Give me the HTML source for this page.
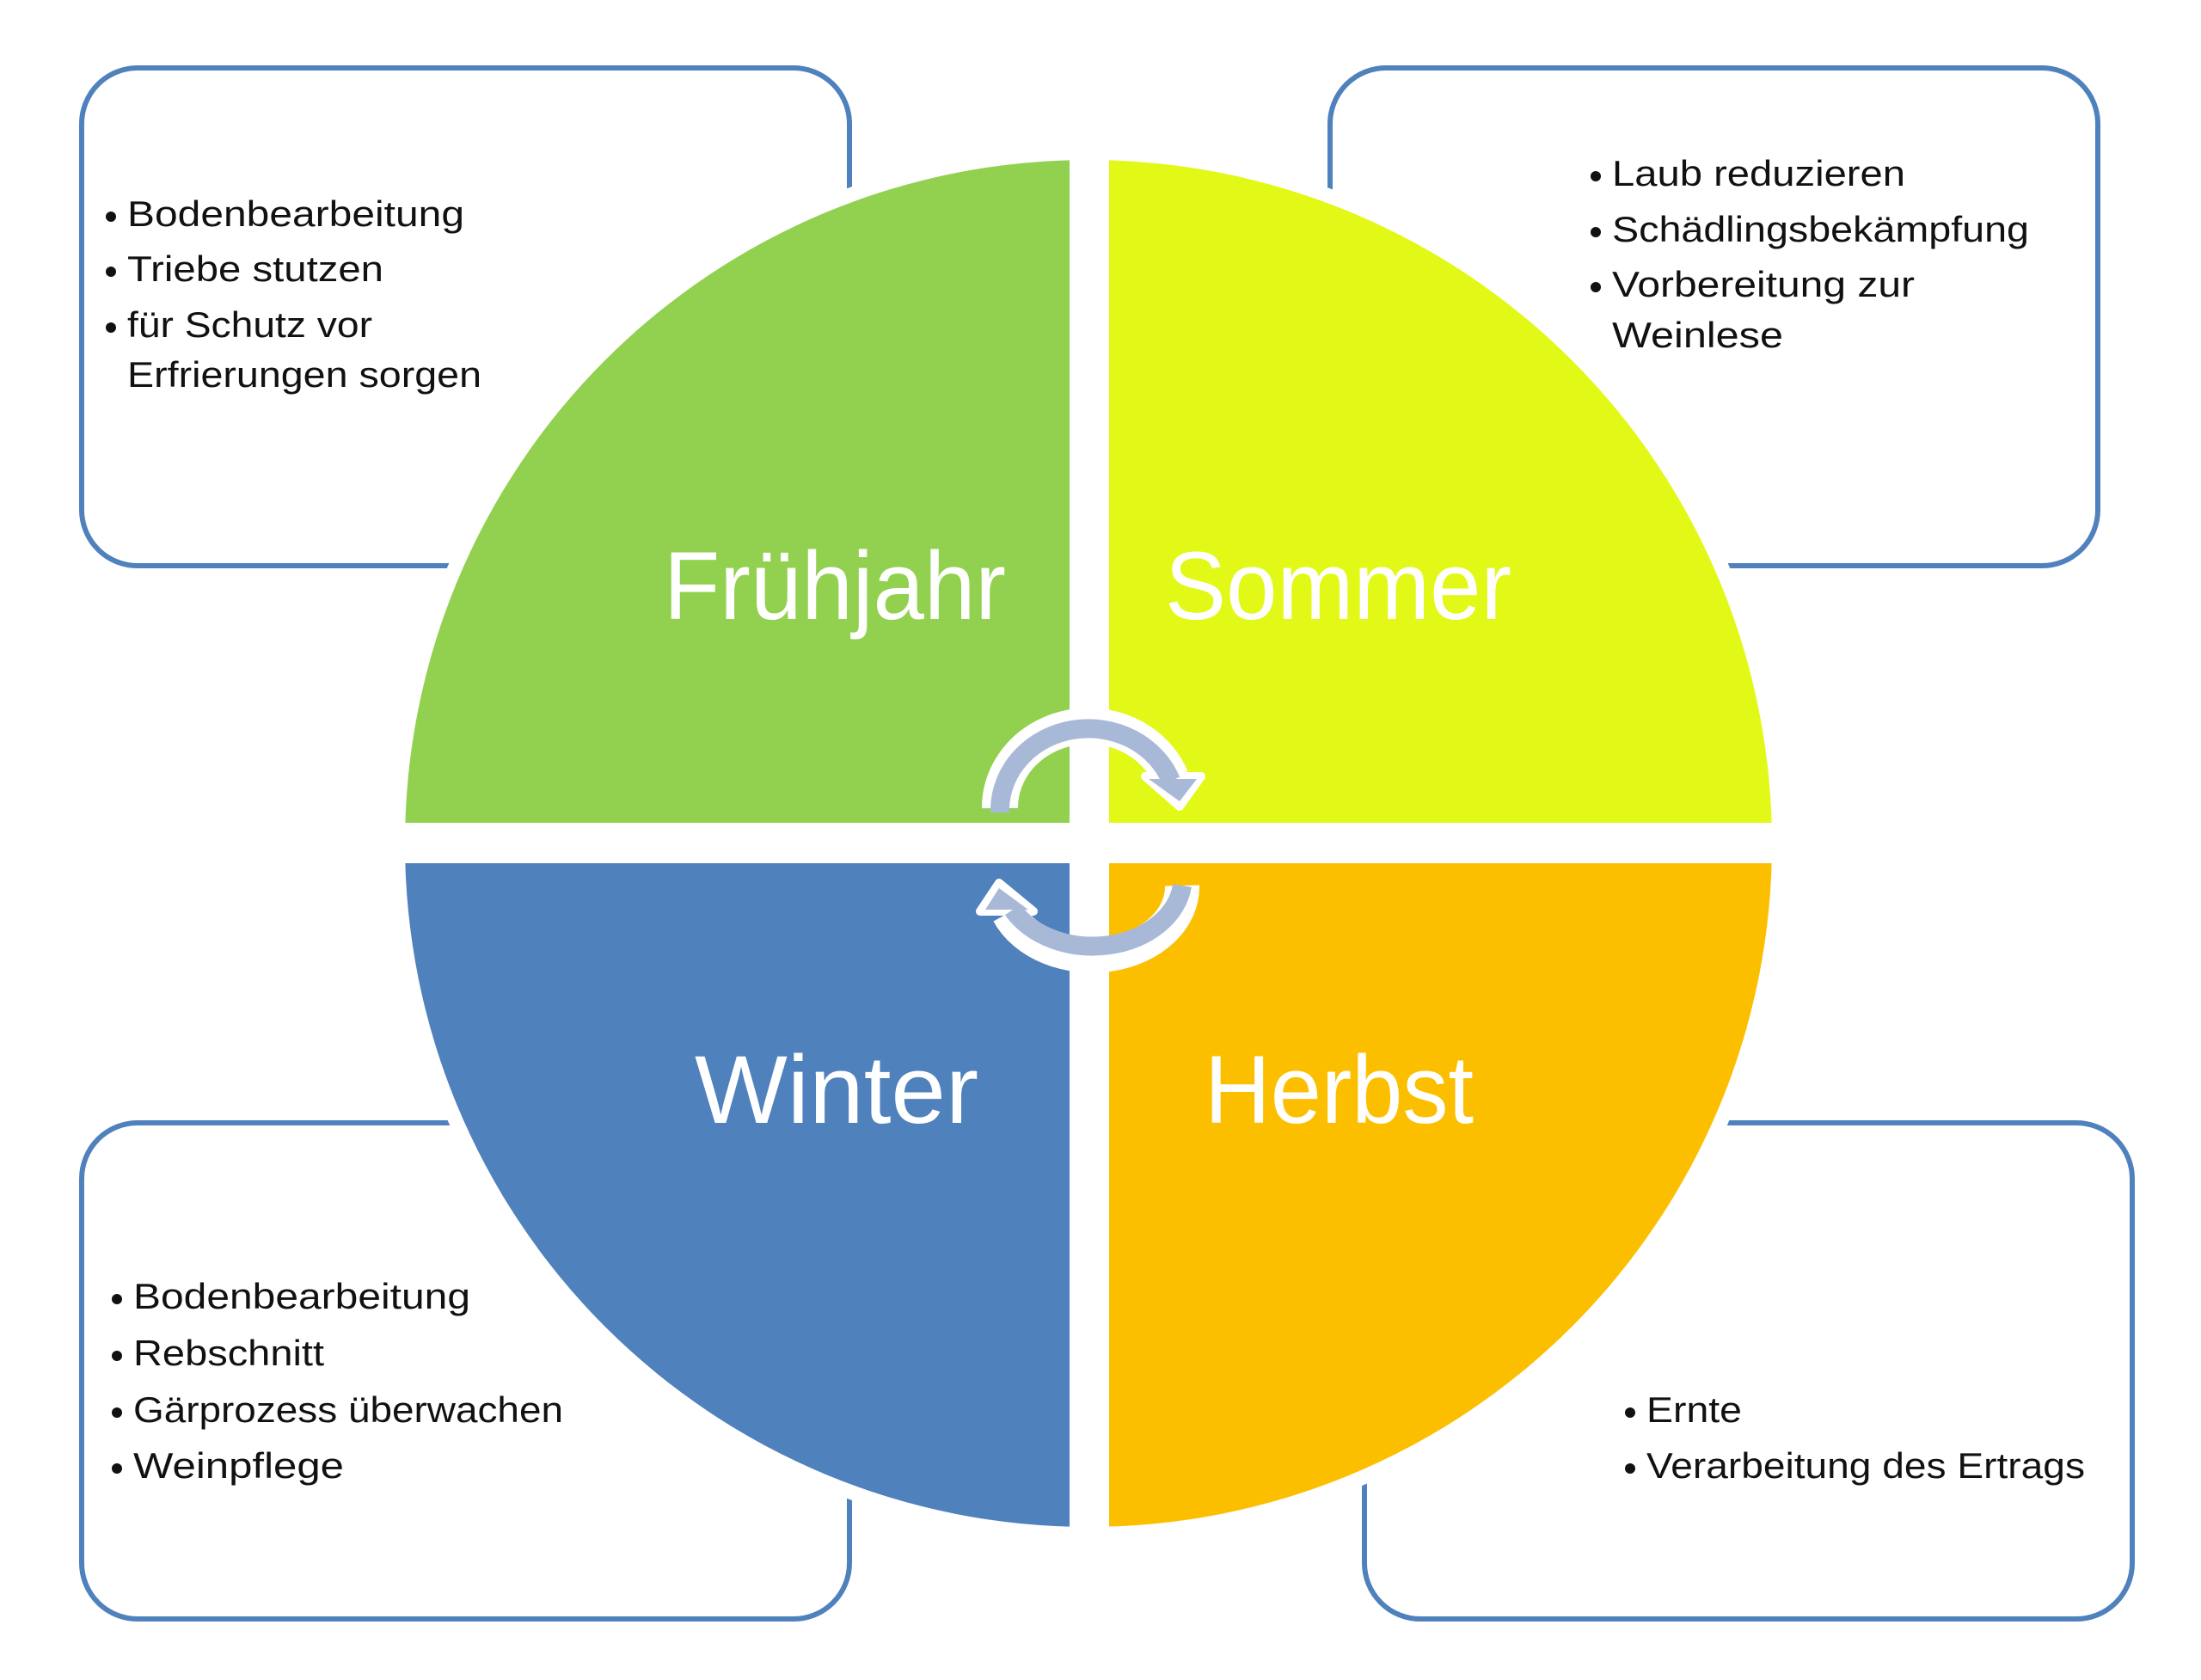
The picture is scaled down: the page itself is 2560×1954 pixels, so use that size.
<!DOCTYPE html>
<html><head><meta charset="utf-8"><style>
html,body{margin:0;padding:0;background:#fff;}
svg{display:block;}
</style></head><body>
<svg width="2560" height="1954" viewBox="0 0 2560 1954" xmlns="http://www.w3.org/2000/svg">
<rect width="2560" height="1954" fill="#fff"/>
<g fill="#fff" stroke="#4f81bd" stroke-width="6">
<rect x="95" y="79" width="893" height="579" rx="65"/>
<rect x="1547" y="79" width="893" height="579" rx="65"/>
<rect x="95" y="1306" width="893" height="577" rx="65"/>
<rect x="1587" y="1306" width="893" height="577" rx="65"/>
</g>
<circle cx="1266" cy="981" r="812" fill="#fff"/>
<clipPath id="c"><circle cx="1266" cy="981" r="795"/></clipPath>
<g clip-path="url(#c)">
<rect x="0" y="0" width="1244" height="957" fill="#92d050"/>
<rect x="1290" y="0" width="1270" height="957" fill="#e2f816"/>
<rect x="0" y="1004" width="1244" height="950" fill="#4f81bd"/>
<rect x="1290" y="1004" width="1270" height="950" fill="#fcbf00"/>
</g>
<g font-family="Liberation Sans, sans-serif" fill="#fff" font-size="112">
<text x="772" y="720" textLength="398" lengthAdjust="spacingAndGlyphs">Frühjahr</text>
<text x="1355" y="720" textLength="403" lengthAdjust="spacingAndGlyphs">Sommer</text>
<text x="808" y="1306" textLength="330" lengthAdjust="spacingAndGlyphs">Winter</text>
<text x="1401" y="1306" textLength="313" lengthAdjust="spacingAndGlyphs">Herbst</text>
</g>
<!-- arrows -->
<g fill="none">
<path d="M1163 940 A103 95 0 0 1 1362 905" stroke="#fff" stroke-width="42"/>
<path d="M1375 1030 A105 80 0 0 1 1173 1062" stroke="#fff" stroke-width="40"/>
</g>
<g fill="#a8b9d8" stroke="#fff" stroke-width="10" stroke-linejoin="round">
<polygon points="1332,903 1397,903 1372,938"/>
<polygon points="1162,1027 1140,1060 1202,1060"/>
</g>
<g fill="none" stroke="#a8b9d8" stroke-width="22">
<path d="M1163 945 L1163 940 A103 95 0 0 1 1362 908"/>
<path d="M1375 1030 A105 80 0 0 1 1178 1058"/>
</g>
<g fill="#a8b9d8">
<polygon points="1336,906 1392,906 1372,932"/>
<polygon points="1162,1033 1146,1058 1196,1058"/>
</g>
<g font-family="Liberation Sans, sans-serif" fill="#111" font-size="42">
<g>
<circle cx="129" cy="252" r="6"/><text x="148" y="263" textLength="392" lengthAdjust="spacingAndGlyphs">Bodenbearbeitung</text>
<circle cx="129" cy="316" r="6"/><text x="148" y="327" textLength="298" lengthAdjust="spacingAndGlyphs">Triebe stutzen</text>
<circle cx="129" cy="381" r="6"/><text x="148" y="392" textLength="285" lengthAdjust="spacingAndGlyphs">für Schutz vor</text>
<text x="148" y="450" textLength="412" lengthAdjust="spacingAndGlyphs">Erfrierungen sorgen</text>
</g>
<g>
<circle cx="1856" cy="205" r="6"/><text x="1875" y="216" textLength="341" lengthAdjust="spacingAndGlyphs">Laub reduzieren</text>
<circle cx="1856" cy="270" r="6"/><text x="1875" y="281" textLength="485" lengthAdjust="spacingAndGlyphs">Schädlingsbekämpfung</text>
<circle cx="1856" cy="334" r="6"/><text x="1875" y="345" textLength="352" lengthAdjust="spacingAndGlyphs">Vorbereitung zur</text>
<text x="1875" y="404" textLength="199" lengthAdjust="spacingAndGlyphs">Weinlese</text>
</g>
<g>
<circle cx="136" cy="1511" r="6"/><text x="155" y="1522" textLength="392" lengthAdjust="spacingAndGlyphs">Bodenbearbeitung</text>
<circle cx="136" cy="1577" r="6"/><text x="155" y="1588" textLength="222" lengthAdjust="spacingAndGlyphs">Rebschnitt</text>
<circle cx="136" cy="1643" r="6"/><text x="155" y="1654" textLength="500" lengthAdjust="spacingAndGlyphs">Gärprozess überwachen</text>
<circle cx="136" cy="1708" r="6"/><text x="155" y="1719" textLength="245" lengthAdjust="spacingAndGlyphs">Weinpflege</text>
</g>
<g>
<circle cx="1896" cy="1643" r="6"/><text x="1915" y="1654" textLength="111" lengthAdjust="spacingAndGlyphs">Ernte</text>
<circle cx="1896" cy="1708" r="6"/><text x="1915" y="1719" textLength="510" lengthAdjust="spacingAndGlyphs">Verarbeitung des Ertrags</text>
</g>
</g>
</svg>
</body></html>
